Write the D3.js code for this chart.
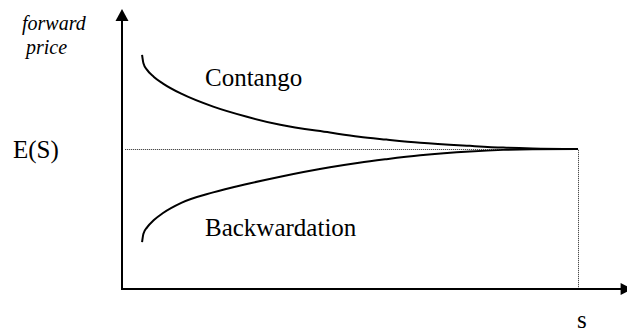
<!DOCTYPE html>
<html>
<head>
<meta charset="utf-8">
<script src="https://cdn.jsdelivr.net/npm/d3@7"></script>
<style>
  html, body { margin: 0; padding: 0; background: #fff; }
  svg { display: block; }
  text { font-family: "Liberation Serif", "Times New Roman", Times, serif; fill: #000; }
</style>
</head>
<body>
<svg id="chart" width="627" height="333"></svg>
<script>
// ---- data ----
const maturities    = [0.044, 0.047, 0.055, 0.07, 0.09, 0.13, 0.2, 0.274, 0.347, 0.456, 0.52, 0.58, 0.654, 0.763, 0.836, 0.9, 1];
const contango      = [126.9, 124.5, 122.6, 120.6, 118.7, 115.8, 112.1, 109.2, 106.9, 104.7, 103.5, 102.7, 101.8, 100.9, 100.4, 100.15, 100];
const backwardation = [73.4, 75.8, 77.6, 79.7, 81.7, 84.6, 87.6, 90.0, 92.1, 94.8, 96.1, 97.1, 98.2, 99.3, 99.75, 99.93, 100];
const expectedSpot = 100;
const labels = { yAxis: ["forward", "price"], spot: "E(S)", xAxis: "s", upper: "Contango", lower: "Backwardation" };

// ---- scales ----
const svg = d3.select("#chart");
const x = d3.scaleLinear().domain([0, 1]).range([122, 578]);
const y = d3.scaleLinear().domain([60, 140]).range([289, 9]);

// dotted reference lines
svg.append("path")
  .attr("d", `M${x(0.007)},${y(expectedSpot) + 0.5}H${x(1) + 0.5}V${y(60)}`)
  .attr("fill", "none").attr("stroke", "#222").attr("stroke-width", 1)
  .attr("stroke-dasharray", "1,1");

// axes
const axisG = svg.append("g");
axisG.append("line")
  .attr("x1", x(0)).attr("y1", y(60) + 1)
  .attr("x2", x(0)).attr("y2", y(140) + 8)
  .attr("stroke", "#000").attr("stroke-width", 2);
axisG.append("path")
  .attr("d", `M${x(0)},${y(140)}L${x(0) - 6.5},${y(140) + 12}L${x(0) + 6.5},${y(140) + 12}Z`)
  .attr("fill", "#000");
axisG.append("line")
  .attr("x1", x(0) - 1).attr("y1", y(60))
  .attr("x2", x(1.1)).attr("y2", y(60))
  .attr("stroke", "#000").attr("stroke-width", 2);
axisG.append("path")
  .attr("d", `M${x(1.1) + 9},${y(60)}L${x(1.1) - 3},${y(60) - 6}L${x(1.1) - 3},${y(60) + 6}Z`)
  .attr("fill", "#000");

// curves
const line = d3.line().x(d => x(d[0])).y(d => y(d[1])).curve(d3.curveMonotoneX);
[contango, backwardation].forEach(series => {
  svg.append("path")
    .datum(maturities.map((m, i) => [m, series[i]]))
    .attr("d", line)
    .attr("fill", "none").attr("stroke", "#000").attr("stroke-width", 2);
});

// labels
svg.append("text").attr("x", 22).attr("y", 29.5)
  .attr("font-style", "italic").attr("font-size", 20).text(labels.yAxis[0]);
svg.append("text").attr("x", 26).attr("y", 54)
  .attr("font-style", "italic").attr("font-size", 20).text(labels.yAxis[1]);
svg.append("text").attr("x", 13).attr("y", 158).attr("font-size", 25).text(labels.spot);
svg.append("text").attr("x", 205).attr("y", 85.5).attr("font-size", 25).text(labels.upper);
svg.append("text").attr("x", 205).attr("y", 236).attr("font-size", 25).text(labels.lower);
svg.append("text").attr("x", 577).attr("y", 328).attr("font-size", 25).text(labels.xAxis);
</script>
</body>
</html>
